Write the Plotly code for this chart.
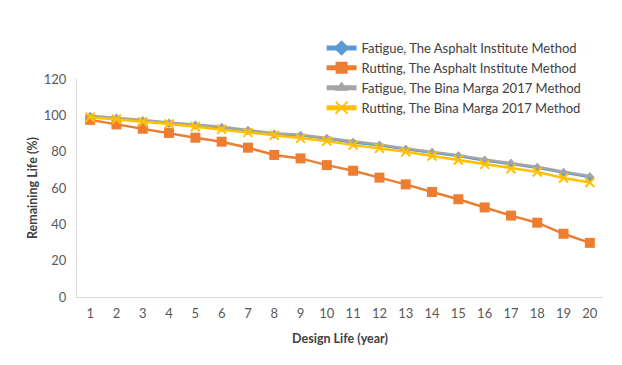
import plotly.graph_objects as go

years = list(range(1, 21))
fatigue_ai = [99.3, 98.3, 97.0, 95.6, 94.6, 93.3, 91.6, 89.6, 88.9, 87.2,
              85.0, 83.5, 81.3, 79.5, 77.6, 75.2, 73.4, 71.2, 68.5, 66.0]
rutting_ai = [97.5, 95.0, 92.6, 90.3, 87.7, 85.5, 82.2, 78.2, 76.3, 72.6,
              69.5, 65.7, 62.0, 57.8, 53.8, 49.3, 44.8, 40.9, 34.8, 29.8]
fatigue_bm = [99.8, 98.8, 97.4, 96.1, 95.0, 93.7, 92.0, 90.1, 89.3, 87.6,
              85.5, 84.0, 81.8, 80.0, 78.1, 75.7, 73.9, 71.7, 69.0, 66.6]
rutting_bm = [98.9, 97.8, 96.5, 95.2, 93.7, 92.3, 90.6, 89.0, 87.3, 85.9,
              83.6, 81.8, 80.0, 77.6, 75.4, 73.0, 70.6, 68.8, 65.5, 63.0]

names = ["Fatigue, The Asphalt Institute Method",
         "Rutting, The Asphalt Institute Method",
         "Fatigue, The Bina Marga 2017 Method",
         "Rutting, The Bina Marga 2017 Method"]
series = [fatigue_ai, rutting_ai, fatigue_bm, rutting_bm]
colors = ["#5B9BD5", "#ED7D31", "#A5A5A5", "#FFC000"]
symbols = ["diamond", "square", "triangle-up", "x-thin"]
sizes = [7, 10, 8, 9]

fig = go.Figure()
for n, s, c, sym, sz in zip(names, series, colors, symbols, sizes):
    marker = dict(symbol=sym, size=sz, color=c)
    if sym == "x-thin":
        marker["line"] = dict(color=c, width=2)
    fig.add_trace(go.Scatter(x=years, y=s, name=n, mode="lines+markers",
                             line=dict(color=c, width=2.5), marker=marker))

font = "Lato, 'Open Sans', sans-serif"
# page body has an 8px margin, so margins are set to land the plot area at the reference spot
fig.update_layout(
    width=622, height=365,
    margin=dict(l=69, r=27, t=71, b=76, autoexpand=False),
    paper_bgcolor="white", plot_bgcolor="white",
    font=dict(family=font, size=13, color="#595959"),
    legend=dict(x=0.465, y=1.211, xanchor="left", yanchor="top",
                bgcolor="rgba(0,0,0,0)", font=dict(size=13, color="#404040"),
                tracegroupgap=0, itemsizing="constant", itemwidth=30),
    xaxis=dict(range=[0.5, 20.5], tickmode="array", tickvals=years,
               ticktext=[str(y) for y in years], showgrid=False,
               showline=True, linecolor="#D9D9D9", linewidth=1, ticks="",
               ticklabelstandoff=4, automargin=True,
               zeroline=False, tickfont=dict(size=13, color="#595959"),
               title=dict(text="<b>Design Life (year)</b>", font=dict(size=12.5, color="#404040"), standoff=14)),
    yaxis=dict(range=[0, 120], tickvals=[0, 20, 40, 60, 80, 100, 120], showgrid=False,
               showline=True, linecolor="#D9D9D9", linewidth=1, ticks="",
               ticklabelstandoff=7, automargin=True,
               zeroline=False, tickfont=dict(size=13, color="#595959"),
               title=dict(text="<b>Remaining Life (%)</b>", font=dict(size=12.5, color="#404040"), standoff=3)),
)
fig.write_html("out.html")
